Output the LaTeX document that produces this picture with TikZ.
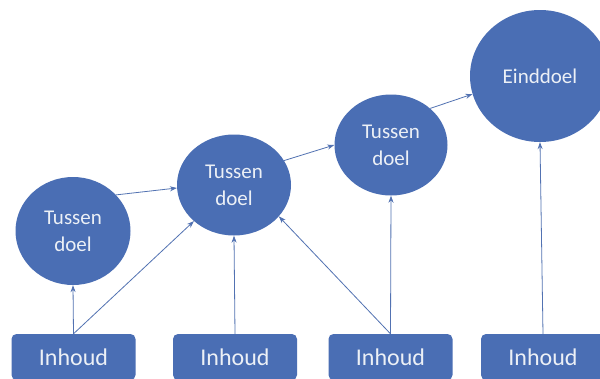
\documentclass[tikz,border=0pt]{standalone}
\usepackage{fontspec}
\setmainfont{Carlito}
\usetikzlibrary{shapes.geometric,arrows.meta}
\definecolor{nodeblue}{RGB}{74,110,180}
\definecolor{lineblue}{RGB}{82,114,178}
\definecolor{txt}{RGB}{236,240,246}
\tikzset{
  goal/.style={ellipse, fill=nodeblue, inner sep=0pt, text=txt, align=center,
    font=\fontsize{21}{27}\selectfont},
  content/.style={rectangle, rounded corners=5pt, fill=nodeblue, inner sep=0pt,
    minimum width=124pt, minimum height=46pt, text=txt,
    font=\fontsize{24}{28}\selectfont},
  conn/.style={draw=lineblue, line width=0.8pt, -{Stealth[length=7pt,width=5pt]}}
}
\begin{document}
\begin{tikzpicture}[x=1pt,y=-1pt]
\useasboundingbox[fill=white] (0,0) rectangle (600,378);
\node[goal, minimum width=115pt, minimum height=108pt] (c1) at (73,231) {Tussen\\doel};
\node[goal, minimum width=114pt, minimum height=101pt] (c2) at (234,185) {Tussen\\doel};
\node[goal, minimum width=113pt, minimum height=101pt] (c3) at (391,145) {Tussen\\doel};
\node[goal, minimum width=140pt, minimum height=132pt] (c4) at (540,76) {Einddoel};
\node[content] (b1) at (73.5,357) {Inhoud};
\node[content] (b2) at (235,357) {Inhoud};
\node[content] (b3) at (390.5,357) {Inhoud};
\node[content] (b4) at (543,357) {Inhoud};
\draw[conn] (b1.north) -- (c1.south);
\draw[conn] (b1.north) -- (c2.222);
\draw[conn] (c1.40) -- (c2.183);
\draw[conn] (b2.north) -- (c2.south);
\draw[conn] (b3.north) -- (c2.325);
\draw[conn] (b3.north) -- (c3.south);
\draw[conn] (c2.26) -- (c3.west);
\draw[conn] (c3.43) -- (c4.195);
\draw[conn] (b4.north) -- (c4.south);
\end{tikzpicture}
\end{document}
